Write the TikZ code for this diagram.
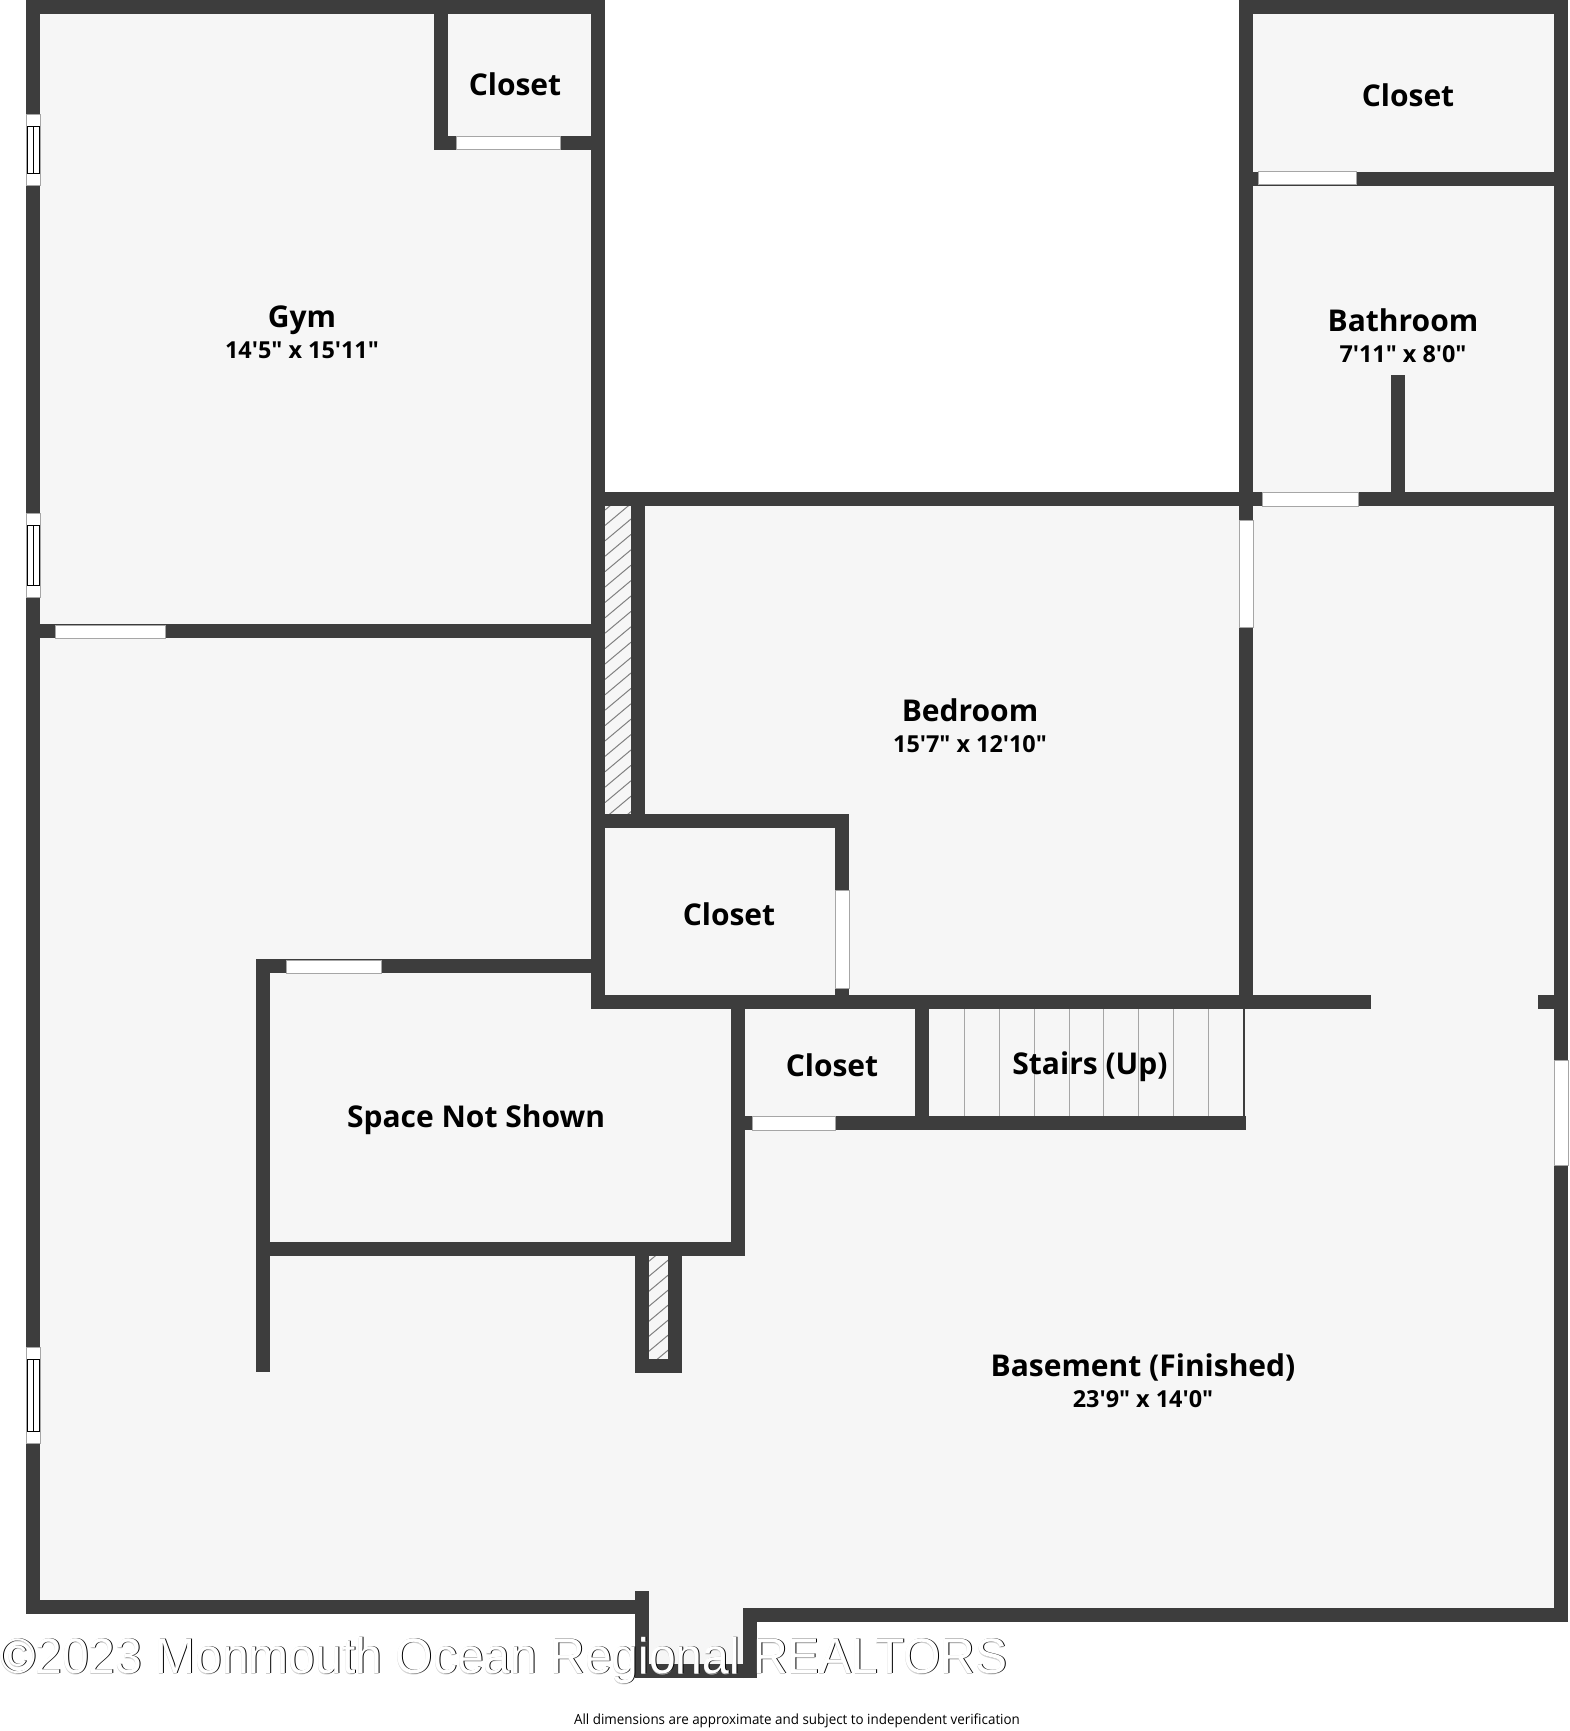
\documentclass[tikz,border=0pt]{standalone}
\usepackage{fontspec}
\newfontfamily\labelfont{Open Sans}
\newfontfamily\notefont[FakeStretch=0.957]{Open Sans}
\newfontfamily\markfont[FakeStretch=0.96]{Liberation Sans}
\definecolor{wallgray}{HTML}{3D3D3D}
\definecolor{floorgray}{HTML}{F6F6F6}
\definecolor{framegray}{HTML}{A6A6A6}
\newcommand{\marktext}{©2023 Monmouth Ocean Regional REALTORS}
\begin{document}
\begin{tikzpicture}[x=1pt,y=-1pt]
    \tikzset{
        wall/.style = {line width=14pt, draw=wallgray, line cap=butt},
        opening/.style = {fill=white, draw=framegray, line width=1pt},
        sash/.style = {draw=black, line width=1pt},
        riser/.style = {draw=framegray, line width=1pt},
        hatchline/.style = {draw=gray, line width=1pt},
        roomname/.style = {font=\labelfont\fontsize{30}{30}\selectfont\bfseries, text=black, inner sep=0pt, text height=23pt, text depth=0pt},
        roomsize/.style = {font=\labelfont\fontsize{23.4}{23.4}\selectfont\bfseries, text=black, inner sep=0pt, text height=17pt, text depth=0pt},
        markstyle/.style = {inner sep=0pt, anchor=base west, font=\markfont\fontsize{50}{50}\selectfont}
    }
    \useasboundingbox (0,0) rectangle (1569,1731);

    % floor
    \fill[floorgray] (33,7) -- (598,7) -- (598,499) -- (1246,499) -- (1246,7) -- (1561,7) -- (1561,1615)
        -- (750,1615) -- (750,1671) -- (642,1671) -- (642,1607) -- (33,1607) -- cycle;

    % hatched shafts
    \begin{scope}
        \clip (605,506) rectangle (631,814);
        \foreach \hy in {0,...,22}
            \draw[hatchline] (605,510+15.4*\hy) -- (631,488.2+15.4*\hy);
    \end{scope}
    \begin{scope}
        \clip (648,1255) rectangle (669,1359);
        \foreach \hy in {0,...,8}
            \draw[hatchline] (648,1262+15*\hy) -- (669,1244.4+15*\hy);
    \end{scope}

    % stairs
    \foreach \sx in {964,999,1034,1069,1103,1138,1173,1208}
        \draw[riser] (\sx,1009) -- (\sx,1116);
    \draw[draw=wallgray, line width=1.5pt] (1244,1009) -- (1244,1116);

    % outer walls
    \draw[wall] (26,7) -- (605,7);
    \draw[wall] (33,0) -- (33,1614);
    \draw[wall] (26,1607) -- (649,1607);
    \draw[wall] (642,1591) -- (642,1678);
    \draw[wall] (635,1671) -- (757,1671);
    \draw[wall] (750,1678) -- (750,1608);
    \draw[wall] (743,1615) -- (1568,1615);
    \draw[wall] (1561,0) -- (1561,1622);
    \draw[wall] (1239,7) -- (1568,7);
    \draw[wall] (1246,0) -- (1246,1009);
    \draw[wall] (598,0) -- (598,1009);
    \draw[wall] (591,499) -- (1568,499);

    % inner walls
    \draw[wall] (441,0) -- (441,150);
    \draw[wall] (434,143) -- (598,143);
    \draw[wall] (33,631) -- (598,631);
    \draw[wall] (638,499) -- (638,828);
    \draw[wall] (598,821) -- (849,821);
    \draw[wall] (842,814) -- (842,1002);
    \draw[wall] (591,1002) -- (1371,1002);
    \draw[wall] (1538,1002) -- (1561,1002);
    \draw[wall] (738,1002) -- (738,1255);
    \draw[wall] (922,1002) -- (922,1130);
    \draw[wall] (738,1123) -- (1246,1123);
    \draw[wall] (263,960) -- (263,1372);
    \draw[wall] (256,966) -- (598,966);
    \draw[wall] (256,1249) -- (745,1249);
    \draw[wall] (642,1249) -- (642,1373);
    \draw[wall] (675,1249) -- (675,1373);
    \draw[wall] (635,1366) -- (682,1366);
    \draw[wall] (1246,179) -- (1561,179);
    \draw[wall] (1398,375) -- (1398,499);

    % openings
    \foreach \ox/\oy/\ow/\oh in {456/137/104/13, 55/625/110/13, 286/960/95/13, 1258/172/98/13, 1262/492/96/14, 752/1116/83/14,
        1239/520/14/107, 835/890/14/98, 1554/1060/14/105}
        \draw[opening] (\ox,\oy) rectangle ++(\ow,\oh);

    % windows on the left wall
    \foreach \oy/\oh in {115/71,513/84,1347/96} {
        \draw[opening] (26,\oy) rectangle ++(14,\oh);
        \draw[sash] (27,\oy+12) rectangle (39,\oy+\oh-12);
        \draw[sash] (33,\oy+12) -- (33,\oy+\oh-12);
    }

    % labels
    \node[roomname] (gym) at (302,316) {Gym};
    \node[roomsize] (gymsize) at (302,350) {14'5" x 15'11"};
    \node[roomname] (closetA) at (515,84) {Closet};
    \node[roomname] (closetB) at (1408,95) {Closet};
    \node[roomname] (bath) at (1403,320) {Bathroom};
    \node[roomsize] (bathsize) at (1403,354) {7'11" x 8'0"};
    \node[roomname] (bed) at (970,710) {Bedroom};
    \node[roomsize] (bedsize) at (970,744) {15'7" x 12'10"};
    \node[roomname] (closetC) at (729,914) {Closet};
    \node[roomname] (closetD) at (832,1065) {Closet};
    \node[roomname] (stairs) at (1090,1063) {Stairs (Up)};
    \node[roomname] (space) at (476,1116) {Space Not Shown};
    \node[roomname] (base) at (1143,1365) {Basement (Finished)};
    \node[roomsize] (basesize) at (1143,1399) {23'9" x 14'0"};

    % watermark
    \node[markstyle, text=black!20] (markshade) at (0,1674) {\marktext};
    \node[markstyle, text=black] (markedge) at (1,1673) {\marktext};
    \node[markstyle, text=white] (markfront) at (0,1673) {\marktext};

    \node[inner sep=0pt, font=\notefont\fontsize{14}{14}\selectfont] (note) at (797,1721) {All dimensions are approximate and subject to independent verification};
\end{tikzpicture}
\end{document}
